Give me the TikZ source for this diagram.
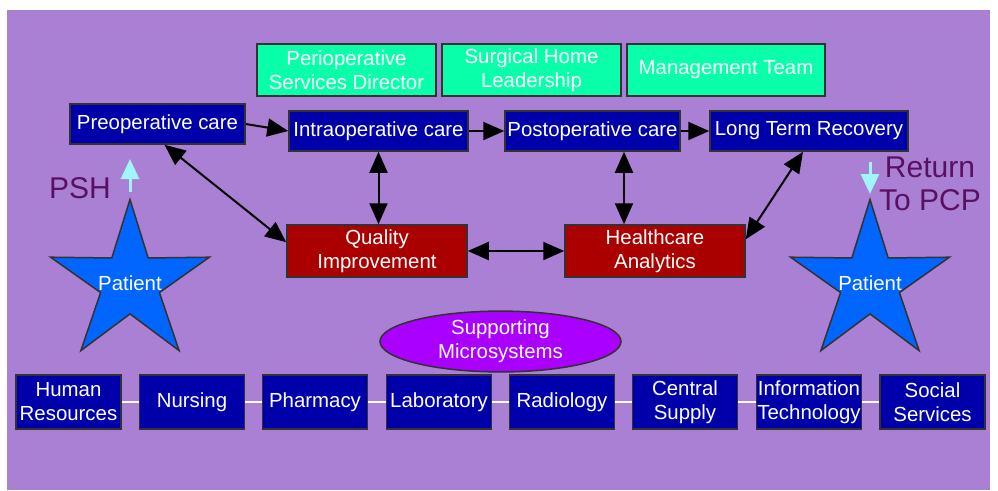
\documentclass[tikz,border=0pt]{standalone}
\usepackage{fontspec}
\setmainfont{Liberation Sans}
\usetikzlibrary{shapes.geometric,arrows.meta}
\definecolor{bgpurple}{RGB}{170,128,212}
\definecolor{mint}{RGB}{10,255,170}
\definecolor{navy}{RGB}{0,0,170}
\definecolor{brick}{RGB}{170,0,0}
\definecolor{starblue}{RGB}{0,102,255}
\definecolor{violetfill}{RGB}{170,0,255}
\definecolor{plum}{RGB}{90,16,96}
\definecolor{paleaqua}{RGB}{160,245,250}
\definecolor{edgegray}{RGB}{50,50,50}
\begin{document}
\begin{tikzpicture}[x=1pt,y=-1pt,
  every node/.style={font=\fontsize{20.4}{24}\selectfont},
  box/.style={draw=edgegray, line width=1.5pt, text=white, inner sep=0pt, align=center},
  leader/.style={box, fill=mint, minimum height=52pt},
  phase/.style={box, fill=navy, minimum height=40pt},
  hub/.style={box, fill=brick, minimum width=180pt, minimum height=52pt},
  micro/.style={box, fill=navy, minimum width=105pt, minimum height=54pt},
  patient/.style={star, star points=5, star point ratio=2.7, minimum size=167pt,
    inner sep=0pt, draw=edgegray, line width=1.5pt, fill=starblue,
    label={[text=white]center:Patient}},
  bigword/.style={text=plum, inner sep=0pt, align=center, font=\fontsize{30}{33}\selectfont},
  bigtip/.tip={Triangle[length=21pt,width=18pt]},
  oneway/.style={line width=2pt, -bigtip},
  twoway/.style={line width=2pt, bigtip-bigtip},
  handoff/.style={paleaqua, line width=3pt, -{Triangle[length=20pt,width=18pt]}},
  link/.style={white, line width=2pt}
]
\useasboundingbox (0,0) rectangle (998,490);
\fill[white] (0,0) rectangle (998,490);
\fill[bgpurple] (7,10) rectangle (990,490);

% leadership row
\node[leader, minimum width=179pt] (pd) at (346.5,70) {Perioperative\\Services Director};
\node[leader, minimum width=179pt] (shl) at (531.5,70) {Surgical Home\\Leadership};
\node[leader, minimum width=198pt] (mt) at (726,70) {Management Team};

% care phases
\node[phase, minimum width=175pt] (pre) at (157.5,124) {Preoperative care};
\node[phase, minimum width=179pt] (intra) at (378.5,131) {Intraoperative care};
\node[phase, minimum width=175pt] (post) at (592.5,131) {Postoperative care};
\node[phase, minimum width=198pt] (ltr) at (809,131) {Long Term Recovery};

% quality and analytics
\node[hub] (qi) at (377,251) {Quality\\Improvement};
\node[hub] (ha) at (655,251) {Healthcare\\Analytics};

% patients
\node[patient] (pl) at (130,283) {};
\node[patient] (pr) at (870,283) {};
\node[bigword] (psh) at (80,188) {PSH};
\node[bigword] (pcp) at (930,184) {Return\\To PCP};

% supporting microsystems
\node[ellipse, draw=edgegray, line width=1.5pt, fill=violetfill, text=white, inner sep=0pt,
  align=center, minimum width=241pt, minimum height=55pt] (sm) at (500.5,341.5)
  {Supporting\\Microsystems};
\node[micro] (m1) at (68.5,402) {Human\\Resources};
\node[micro] (m2) at (192,402) {Nursing};
\node[micro] (m3) at (315,402) {Pharmacy};
\node[micro] (m4) at (439,402) {Laboratory};
\node[micro] (m5) at (562,402) {Radiology};
\node[micro] (m6) at (685,402) {Central\\Supply};
\node[micro] (m7) at (809,402) {Information\\Technology};
\node[micro] (m8) at (932.5,402) {Social\\Services};
\foreach \a/\b in {m1/m2,m2/m3,m3/m4,m4/m5,m5/m6,m6/m7,m7/m8}
  \draw[link] (\a.east) -- (\b.west);

% flow between phases
\draw[oneway] (pre.east) -- (intra.west);
\draw[oneway] (intra.east) -- (post.west);
\draw[oneway] (post.east) -- (ltr.west);

% feedback links
\draw[twoway] ([xshift=7pt]pre.south) -- ([yshift=-18pt]qi.north west);
\draw[twoway] (intra.south) -- (intra.south |- qi.north);
\draw[twoway] (qi.east) -- (ha.west);
\coordinate (pa) at ([xshift=31.5pt]post.south);
\draw[twoway] (pa) -- (pa |- ha.north);
\draw[twoway] ([yshift=-15pt]ha.north east) -- ([xshift=-6pt]ltr.south);

% patient entry and exit
\coordinate (inbase) at (130,192);
\coordinate (intip) at (130,159);
\draw[handoff] (inbase) -- (intip);
\coordinate (outbase) at (870,162);
\coordinate (outtip) at (870,194);
\draw[handoff] (outbase) -- (outtip);
\end{tikzpicture}
\end{document}
